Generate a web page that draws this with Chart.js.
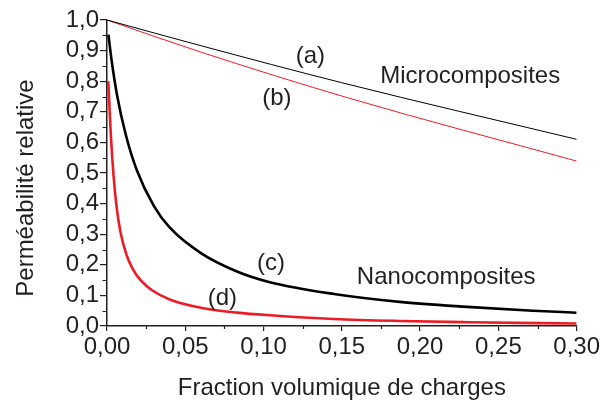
<!DOCTYPE html>
<html>
<head>
<meta charset="utf-8">
<script src="https://cdn.jsdelivr.net/npm/chart.js@4.4.1/dist/chart.umd.min.js"></script>
<style>
  html, body { margin: 0; padding: 0; background: #ffffff; }
  #wrap { width: 602px; height: 405px; position: relative; }
</style>
</head>
<body>
<div id="wrap"><canvas id="c" width="602" height="405"></canvas></div>
<script>
// ---- data ----
const xA = [0, 0.06, 0.15, 0.30];
const yA = [1.0, 0.916, 0.795, 0.610];

const xB = [0, 0.06, 0.155, 0.30];
const yB = [1.0, 0.895, 0.744, 0.539];

const xC = [0.0009, 0.0030, 0.0064, 0.0120, 0.0190, 0.0300, 0.0400, 0.0600, 0.0830, 0.1040, 0.1450, 0.1870, 0.2300, 0.2720, 0.3000];
const yC = [0.952, 0.866, 0.755, 0.625, 0.510, 0.392, 0.322, 0.238, 0.178, 0.143, 0.1045, 0.0787, 0.0625, 0.0500, 0.0435];

const xD = [0.0008, 0.0025, 0.0042, 0.0060, 0.0085, 0.0125, 0.0165, 0.0217, 0.0290, 0.0404, 0.0617, 0.0830, 0.1040, 0.1450, 0.1870, 0.2300, 0.3000];
const yD = [0.800, 0.620, 0.490, 0.395, 0.310, 0.232, 0.186, 0.148, 0.116, 0.086, 0.058, 0.0438, 0.0352, 0.0230, 0.0165, 0.0125, 0.0080];

const xTickValues = [0, 0.05, 0.10, 0.15, 0.20, 0.25, 0.30];
const xTickLabels = ['0,00', '0,05', '0,10', '0,15', '0,20', '0,25', '0,30'];
const xMinorTicks = [0.025, 0.075, 0.125, 0.175, 0.225, 0.275];

const yTickValues = [0, 0.1, 0.2, 0.3, 0.4, 0.5, 0.6, 0.7, 0.8, 0.9, 1.0];
const yTickLabels = ['0,0', '0,1', '0,2', '0,3', '0,4', '0,5', '0,6', '0,7', '0,8', '0,9', '1,0'];
const yMinorTicks = [0.05, 0.15, 0.25, 0.35, 0.45, 0.55, 0.65, 0.75, 0.85, 0.95];

const labelTexts = ['(a)', '(b)', 'Microcomposites', '(c)', '(d)', 'Nanocomposites'];
const labelX = [0.1299, 0.1085, 0.232, 0.1047, 0.0737, 0.2167];
const labelY = [0.859, 0.722, 0.7925, 0.183, 0.0686, 0.137];

const xTitle = 'Fraction volumique de charges';
const yTitle = 'Perméabilité relative';

// ---- styles ----
const INK = '#231f20';
const RED = '#ed1c24';
const FONT = '"Liberation Sans", Arial, Helvetica, sans-serif';

const pts = (xs, ys) => xs.map((x, i) => ({ x: x, y: ys[i] }));

const extras = {
  id: 'extras',
  afterDraw(chart) {
    const ctx = chart.ctx;
    const xs = chart.scales.x, ys = chart.scales.y;
    const area = chart.chartArea;
    ctx.save();
    // minor ticks
    ctx.strokeStyle = INK;
    ctx.lineWidth = 1.2;
    ctx.beginPath();
    xMinorTicks.forEach(v => {
      const px = Math.round(xs.getPixelForValue(v)) + 0.5;
      ctx.moveTo(px, area.bottom);
      ctx.lineTo(px, area.bottom + 3);
    });
    yMinorTicks.forEach(v => {
      const py = Math.round(ys.getPixelForValue(v)) + 0.5;
      ctx.moveTo(area.left, py);
      ctx.lineTo(area.left - 4.5, py);
    });
    ctx.stroke();
    // annotations
    ctx.fillStyle = INK;
    ctx.font = '24px ' + FONT;
    ctx.textAlign = 'center';
    ctx.textBaseline = 'alphabetic';
    labelTexts.forEach((t, i) => {
      ctx.fillText(t, xs.getPixelForValue(labelX[i]), ys.getPixelForValue(labelY[i]));
    });
    // axis titles
    ctx.fillText(xTitle, (area.left + area.right) / 2, 395);
    ctx.translate(33, 188);
    ctx.rotate(-Math.PI / 2);
    ctx.fillText(yTitle, 0, 0);
    ctx.restore();
  }
};

new Chart(document.getElementById('c'), {
  type: 'line',
  data: {
    datasets: [
      { label: '(a)', data: pts(xA, yA), borderColor: '#000000', borderWidth: 1 },
      { label: '(b)', data: pts(xB, yB), borderColor: RED, borderWidth: 1 },
      { label: '(c)', data: pts(xC, yC), borderColor: '#000000', borderWidth: 2.6 },
      { label: '(d)', data: pts(xD, yD), borderColor: RED, borderWidth: 2.6 }
    ]
  },
  options: {
    responsive: false,
    animation: false,
    devicePixelRatio: 1,
    elements: {
      point: { radius: 0, hoverRadius: 0 },
      line: { cubicInterpolationMode: 'monotone', fill: false, borderJoinStyle: 'round' }
    },
    layout: { padding: { left: 0, right: 25, top: 20, bottom: 0 } },
    plugins: { legend: { display: false }, tooltip: { enabled: false }, title: { display: false } },
    scales: {
      x: {
        type: 'linear',
        min: 0, max: 0.30,
        afterBuildTicks: s => { s.ticks = xTickValues.map(v => ({ value: v })); },
        afterFit: s => { s.height = 79; },
        border: { display: true, color: INK, width: 1.5 },
        grid: { drawOnChartArea: false, drawTicks: true, tickLength: 5, color: INK, lineWidth: 1.2 },
        ticks: {
          autoSkip: false, maxRotation: 0, padding: 2,
          color: INK, font: { family: FONT, size: 24 },
          callback: (v, i) => xTickLabels[i]
        }
      },
      y: {
        type: 'linear',
        min: 0, max: 1.0,
        afterBuildTicks: s => { s.ticks = yTickValues.map(v => ({ value: v })); },
        afterFit: s => { s.width = 107; },
        border: { display: true, color: INK, width: 1.5 },
        grid: { drawOnChartArea: false, drawTicks: true, tickLength: 7, color: INK, lineWidth: 1.2 },
        ticks: {
          autoSkip: false, padding: 1,
          color: INK, font: { family: FONT, size: 24 },
          callback: (v, i) => yTickLabels[i]
        }
      }
    }
  },
  plugins: [extras]
});
</script>
</body>
</html>
